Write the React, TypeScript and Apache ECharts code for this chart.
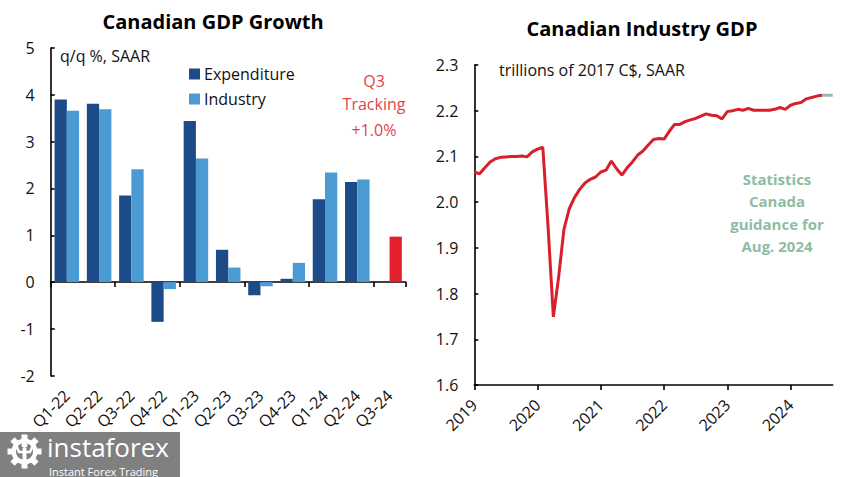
import React, { useEffect, useRef } from "react";
import * as echarts from "echarts";

const quarters = ["Q1-22", "Q2-22", "Q3-22", "Q4-22", "Q1-23", "Q2-23", "Q3-23", "Q4-23", "Q1-24", "Q2-24", "Q3-24"];
const expenditure = [3.9, 3.81, 1.85, -0.85, 3.44, 0.69, -0.28, 0.07, 1.77, 2.14, null];
const industry = [3.66, 3.69, 2.41, -0.15, 2.64, 0.31, -0.09, 0.41, 2.34, 2.19, null];
const q3Tracking = [null, null, null, null, null, null, null, null, null, null, 0.97];

const years = ["2019", "2020", "2021", "2022", "2023", "2024"];
const monthNames = ["Jan", "Feb", "Mar", "Apr", "May", "Jun", "Jul", "Aug", "Sep", "Oct", "Nov", "Dec"];
const months: string[] = [];
years.forEach((y) => monthNames.forEach((m) => months.push(m + " " + y)));
const monthAxis = months.slice(0, 69);

// Monthly industry GDP, Jan 2019 - Jul 2024 (trillions of 2017 C$, SAAR)
const industryGdp = [
  2.066, 2.062, 2.075, 2.088, 2.095, 2.098, 2.099, 2.1, 2.1, 2.101, 2.099, 2.11,
  2.116, 2.12, 1.945, 1.749, 1.836, 1.94, 1.985, 2.01, 2.028, 2.042, 2.05, 2.055,
  2.066, 2.07, 2.09, 2.073, 2.059, 2.075, 2.088, 2.103, 2.112, 2.125, 2.137, 2.139,
  2.138, 2.155, 2.17, 2.17, 2.176, 2.18, 2.183, 2.188, 2.193, 2.19, 2.189, 2.182,
  2.198, 2.2, 2.203, 2.201, 2.205, 2.201, 2.201, 2.201, 2.201, 2.203, 2.207, 2.203,
  2.212, 2.216, 2.218, 2.226, 2.229, 2.232, 2.234,
];
// Statistics Canada guidance (from last actual onward)
const guidanceStart = 66;
const guidance = [2.234, 2.234, 2.234];

const FONT = "'Open Sans', 'Noto Sans', sans-serif";
const DARK = "#1d4b88";
const LIGHT = "#4a9bd3";
const RED = "#e3202c";

export default function App() {
  const ref = useRef<HTMLDivElement>(null);
  useEffect(() => {
    if (!ref.current) return;
    const chart = echarts.init(ref.current, null, { renderer: "svg" });

    const redLine = monthAxis.map((_, i) => (i < industryGdp.length ? industryGdp[i] : null));
    const greyLine = monthAxis.map((_, i) =>
      i >= guidanceStart && i - guidanceStart < guidance.length ? guidance[i - guidanceStart] : null
    );
    const industryData = industry.map((v, i) =>
      q3Tracking[i] != null ? { value: q3Tracking[i], itemStyle: { color: RED } } : v
    );

    const teeth = [0, 1, 2, 3, 4, 5, 6, 7].map((k) => ({
      type: "group",
      x: 24.5,
      y: 451.5,
      rotation: (k * Math.PI) / 4,
      children: [{ type: "rect", shape: { x: -3, y: -17, width: 6, height: 6 }, style: { fill: "#fff" } }],
    }));

    const axisLineStyle = { color: "#000", width: 1.6 };
    const labelStyle = { color: "#111", fontFamily: FONT, fontSize: 16 };

    chart.setOption({
      animation: false,
      textStyle: { fontFamily: FONT },
      legend: {
        orient: "vertical",
        left: 184,
        top: 61,
        itemWidth: 11,
        itemHeight: 11,
        itemGap: 9,
        icon: "rect",
        data: ["Expenditure", "Industry"],
        textStyle: { fontSize: 16, color: "#111", fontFamily: FONT, padding: [0, 0, 0, -1] },
      },
      grid: [
        { left: 50.7, top: 48, width: 355, height: 327.7, containLabel: false },
        { left: 474.3, top: 65, width: 358.4, height: 320, containLabel: false },
      ],
      xAxis: [
        {
          type: "category",
          gridIndex: 0,
          data: quarters,
          axisLine: { onZero: true, lineStyle: axisLineStyle },
          axisTick: { show: true, inside: false, length: 5, lineStyle: axisLineStyle },
          axisLabel: { show: false },
          splitLine: { show: false },
        },
        {
          type: "category",
          gridIndex: 0,
          data: quarters,
          position: "bottom",
          axisLine: { show: false, onZero: false },
          axisTick: { show: false },
          axisLabel: { ...labelStyle, rotate: 45, margin: 17, interval: 0 },
        },
        {
          type: "category",
          gridIndex: 1,
          data: monthAxis,
          boundaryGap: false,
          axisLine: { lineStyle: axisLineStyle },
          axisTick: { show: true, length: 5, interval: (i: number) => i % 12 === 0, lineStyle: axisLineStyle },
          axisLabel: {
            ...labelStyle,
            rotate: 45,
            margin: 17,
            interval: (i: number) => i % 12 === 0,
            formatter: (v: string) => v.split(" ")[1],
          },
          splitLine: { show: false },
        },
      ],
      yAxis: [
        {
          type: "value",
          gridIndex: 0,
          min: -2,
          max: 5,
          interval: 1,
          axisLine: { show: true, lineStyle: axisLineStyle },
          axisTick: { show: true, inside: true, length: 4, lineStyle: axisLineStyle },
          axisLabel: { ...labelStyle, margin: 16 },
          splitLine: { show: false },
        },
        {
          type: "value",
          gridIndex: 1,
          min: 1.6,
          max: 2.3,
          interval: 0.1,
          axisLine: { show: true, lineStyle: axisLineStyle },
          axisTick: { show: true, inside: true, length: 4, lineStyle: axisLineStyle },
          axisLabel: { ...labelStyle, margin: 16, formatter: (v: number) => v.toFixed(1) },
          splitLine: { show: false },
        },
      ],
      series: [
        {
          name: "Expenditure",
          type: "bar",
          xAxisIndex: 0,
          yAxisIndex: 0,
          data: expenditure,
          itemStyle: { color: DARK },
          barGap: "0%",
          barCategoryGap: "24%",
        },
        {
          name: "Industry",
          type: "bar",
          xAxisIndex: 0,
          yAxisIndex: 0,
          data: industryData,
          itemStyle: { color: LIGHT },
          barGap: "0%",
          barCategoryGap: "24%",
        },
        {
          name: "Industry GDP",
          type: "line",
          xAxisIndex: 2,
          yAxisIndex: 1,
          data: redLine,
          showSymbol: false,
          lineStyle: { color: "#d7202b", width: 3 },
          itemStyle: { color: "#d7202b" },
        },
        {
          name: "Guidance",
          type: "line",
          xAxisIndex: 2,
          yAxisIndex: 1,
          data: greyLine,
          showSymbol: false,
          lineStyle: { color: "#9cb5ae", width: 3 },
          itemStyle: { color: "#9cb5ae" },
        },
      ],
      graphic: [
        {
          type: "text",
          x: 213,
          y: 21,
          style: { text: "Canadian GDP Growth", fontSize: 20, fontWeight: "bold", fontFamily: FONT, fill: "#000", textAlign: "center", textVerticalAlign: "middle" },
        },
        {
          type: "text",
          x: 642,
          y: 28,
          style: { text: "Canadian Industry GDP", fontSize: 20, fontWeight: "bold", fontFamily: FONT, fill: "#000", textAlign: "center", textVerticalAlign: "middle" },
        },
        {
          type: "text",
          x: 60,
          y: 56,
          style: { text: "q/q %, SAAR", fontSize: 16, fontFamily: FONT, fill: "#111", textVerticalAlign: "middle" },
        },
        {
          type: "text",
          x: 374,
          y: 81,
          style: { text: "Q3", fontSize: 16, fontFamily: FONT, fill: "#e1434d", textAlign: "center", textVerticalAlign: "middle" },
        },
        {
          type: "text",
          x: 374,
          y: 104,
          style: { text: "Tracking", fontSize: 16, fontFamily: FONT, fill: "#e1434d", textAlign: "center", textVerticalAlign: "middle" },
        },
        {
          type: "text",
          x: 374,
          y: 130,
          style: { text: "+1.0%", fontSize: 16, fontFamily: FONT, fill: "#e1434d", textAlign: "center", textVerticalAlign: "middle" },
        },
        {
          type: "text",
          x: 499,
          y: 70,
          style: { text: "trillions of 2017 C$, SAAR", fontSize: 16, fontFamily: FONT, fill: "#111", textVerticalAlign: "middle" },
        },
        {
          type: "text",
          x: 777,
          y: 212.5,
          style: {
            text: "Statistics\nCanada\nguidance for\nAug. 2024",
            fontSize: 15,
            fontWeight: "bold",
            lineHeight: 22.5,
            fontFamily: FONT,
            fill: "#8dbda2",
            textAlign: "center",
            textVerticalAlign: "middle",
          },
        },
        {
          type: "group",
          children: [
            { type: "rect", shape: { x: 0, y: 432, width: 180, height: 45 }, style: { fill: "#808080" } },
            ...teeth,
            { type: "circle", shape: { cx: 24.5, cy: 451.5, r: 13 }, style: { fill: "#fff" } },
            { type: "circle", shape: { cx: 24.5, cy: 451.5, r: 8.5 }, style: { fill: "#808080" } },
            { type: "circle", shape: { cx: 24.5, cy: 445, r: 3 }, style: { fill: "#fff" } },
            { type: "rect", shape: { x: 22.5, y: 448, width: 4, height: 15 }, style: { fill: "#fff" } },
            { type: "polyline", shape: { points: [[16, 445], [19, 452], [24.5, 452], [30, 452], [33, 445]] }, style: { stroke: "#fff", lineWidth: 2.5, fill: "none" } },
            {
              type: "text",
              x: 47,
              y: 447,
              style: { text: "instaforex", fontSize: 26, fontFamily: FONT, fill: "#fff", textVerticalAlign: "middle" },
            },
            {
              type: "text",
              x: 49,
              y: 471,
              style: { text: "Instant Forex Trading", fontSize: 11, fontFamily: FONT, fill: "#fff", textVerticalAlign: "middle" },
            },
          ],
        },
      ],
    });
    return () => chart.dispose();
  }, []);

  return <div ref={ref} style={{ position: "fixed", left: 0, top: 0, width: 853, height: 477, background: "#fff" }} />;
}
